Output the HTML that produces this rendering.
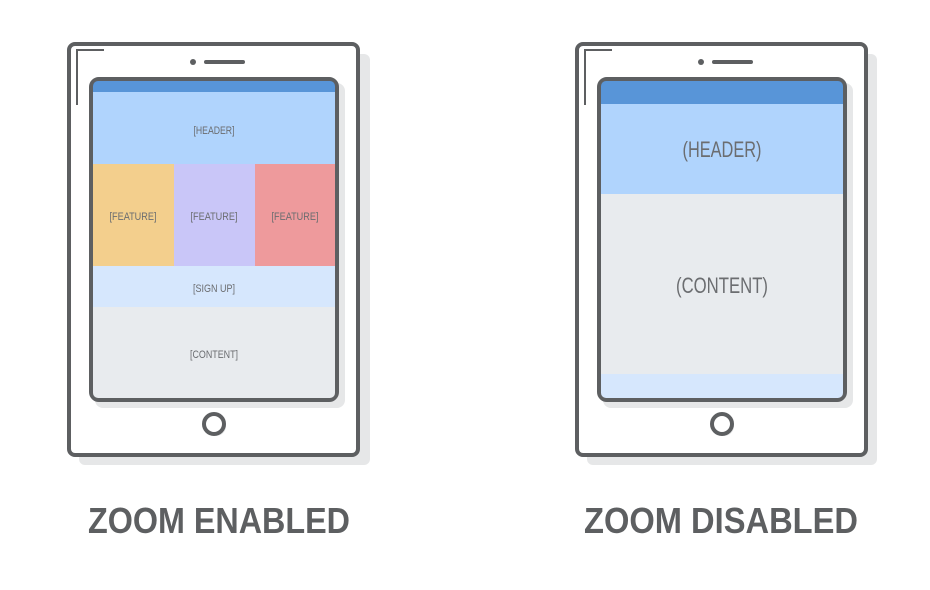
<!DOCTYPE html>
<html><head><meta charset="utf-8"><style>
html,body{margin:0;padding:0;background:#fff;width:930px;height:590px;overflow:hidden}
svg{display:block}
</style></head><body>
<svg width="930" height="590" viewBox="0 0 930 590" xmlns="http://www.w3.org/2000/svg" font-family="Liberation Sans, sans-serif">
<!-- LEFT TABLET -->
<rect x="79" y="54" width="291" height="411" rx="6" fill="#e6e7e8"/>
<rect x="69" y="44" width="289" height="411" rx="6" fill="#fff" stroke="#5d5f61" stroke-width="4"/>
<path d="M77 105 V50 H104" fill="none" stroke="#5d5f61" stroke-width="2"/>
<circle cx="193" cy="62" r="3" fill="#5d5f61"/>
<line x1="206" y1="62" x2="243" y2="62" stroke="#5d5f61" stroke-width="4" stroke-linecap="round"/>
<rect x="95" y="83" width="250" height="325" rx="8" fill="#e6e7e8"/>
<rect x="91" y="79" width="246" height="321" rx="8" fill="#5d5f61" stroke="#5d5f61" stroke-width="4"/>
<clipPath id="c1"><rect x="93" y="81" width="242" height="317" rx="5"/></clipPath>
<g clip-path="url(#c1)">
<rect x="93" y="81" width="242" height="11" fill="#5895d8"/>
<rect x="93" y="92" width="242" height="72" fill="#b0d4fd"/>
<rect x="93" y="164" width="81" height="102" fill="#f3cf8d"/>
<rect x="174" y="164" width="81" height="102" fill="#c9c6f8"/>
<rect x="255" y="164" width="80" height="102" fill="#ee9a9c"/>
<rect x="93" y="266" width="242" height="41" fill="#d6e7fd"/>
<rect x="93" y="307" width="242" height="91" fill="#e8ebee"/>
</g>
<g fill="#6b6d70" font-size="11" text-anchor="middle">
<text x="214" y="134" textLength="41" lengthAdjust="spacingAndGlyphs">[HEADER]</text>
<text x="133" y="220" textLength="47" lengthAdjust="spacingAndGlyphs">[FEATURE]</text>
<text x="214" y="220" textLength="47" lengthAdjust="spacingAndGlyphs">[FEATURE]</text>
<text x="295" y="220" textLength="47" lengthAdjust="spacingAndGlyphs">[FEATURE]</text>
<text x="214" y="292" textLength="42" lengthAdjust="spacingAndGlyphs">[SIGN  UP]</text>
<text x="214" y="358" textLength="48" lengthAdjust="spacingAndGlyphs">[CONTENT]</text>
</g>
<circle cx="216" cy="426" r="10" fill="#e6e7e8"/>
<circle cx="214" cy="424" r="10" fill="#fff" stroke="#5d5f61" stroke-width="4"/>

<!-- RIGHT TABLET -->
<rect x="587" y="54" width="290" height="411" rx="6" fill="#e6e7e8"/>
<rect x="577" y="44" width="289" height="411" rx="6" fill="#fff" stroke="#5d5f61" stroke-width="4"/>
<path d="M585 105 V50 H612" fill="none" stroke="#5d5f61" stroke-width="2"/>
<circle cx="701" cy="62" r="3" fill="#5d5f61"/>
<line x1="714" y1="62" x2="751" y2="62" stroke="#5d5f61" stroke-width="4" stroke-linecap="round"/>
<rect x="603" y="83" width="250" height="325" rx="8" fill="#e6e7e8"/>
<rect x="599" y="79" width="246" height="321" rx="8" fill="#5d5f61" stroke="#5d5f61" stroke-width="4"/>
<clipPath id="c2"><rect x="601" y="81" width="242" height="317" rx="5"/></clipPath>
<g clip-path="url(#c2)">
<rect x="601" y="81" width="242" height="23" fill="#5895d8"/>
<rect x="601" y="104" width="242" height="90" fill="#b0d4fd"/>
<rect x="601" y="194" width="242" height="180" fill="#e8ebee"/>
<rect x="601" y="374" width="242" height="24" fill="#d6e7fd"/>
</g>
<g fill="#6b6d70" font-size="22" text-anchor="middle">
<text x="722" y="157" textLength="79" lengthAdjust="spacingAndGlyphs">(HEADER)</text>
<text x="722" y="293" textLength="92" lengthAdjust="spacingAndGlyphs">(CONTENT)</text>
</g>
<circle cx="724" cy="426" r="10" fill="#e6e7e8"/>
<circle cx="722" cy="424" r="10" fill="#fff" stroke="#5d5f61" stroke-width="4"/>

<!-- LABELS -->
<g fill="#5d5f61" font-size="36" font-weight="bold" text-anchor="middle">
<text x="219" y="533" textLength="262" lengthAdjust="spacingAndGlyphs">ZOOM ENABLED</text>
<text x="721" y="533" textLength="274" lengthAdjust="spacingAndGlyphs">ZOOM DISABLED</text>
</g>
</svg>
</body></html>
